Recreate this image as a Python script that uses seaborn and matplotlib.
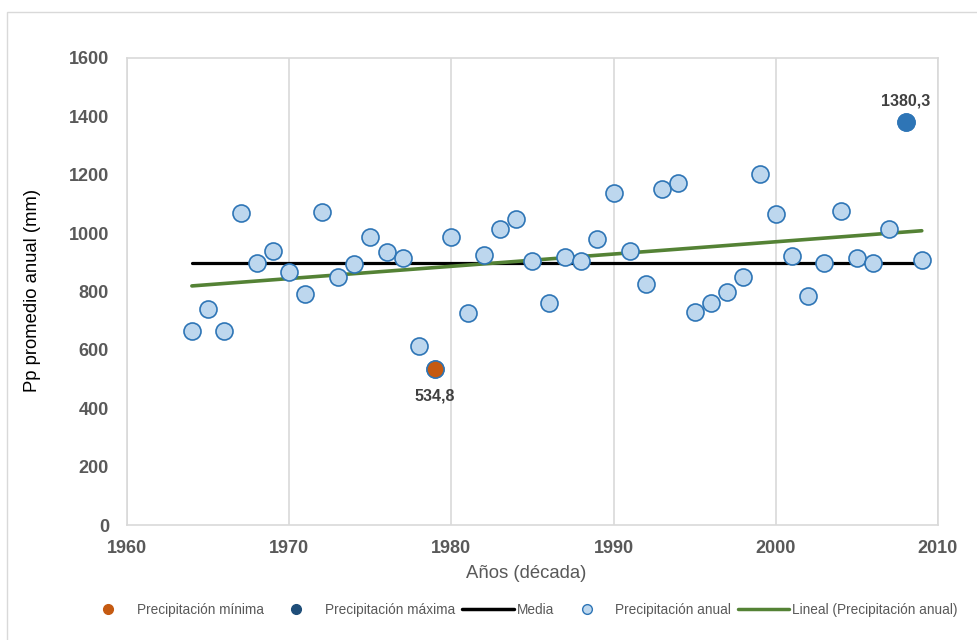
import numpy as np
import pandas as pd
import matplotlib
matplotlib.use("Agg")
import matplotlib.pyplot as plt
from matplotlib.lines import Line2D
from matplotlib.patches import Rectangle
import seaborn as sns

years = list(range(1964, 2010))
precip = [665, 740, 665, 1069, 898, 939, 867, 791, 1072, 850,
          894, 987, 935, 915, 613, 534.8, 987, 726, 925, 1014,
          1048, 904, 760, 918, 904, 980, 1137, 939, 826, 1151,
          1172, 730, 760, 798, 850, 1202, 1065, 922, 785, 898,
          1076, 915, 898, 1014, 1380.3, 908]
media = 898
min_label = "534,8"
max_label = "1380,3"
x_ticks = [1960, 1970, 1980, 1990, 2000, 2010]
y_ticks = [0, 200, 400, 600, 800, 1000, 1200, 1400, 1600]

df = pd.DataFrame({"year": years, "pp": precip})
imin = int(df["pp"].idxmin())
imax = int(df["pp"].idxmax())

sns.set_style("white")
plt.rcParams['font.family'] = ['Liberation Sans', 'DejaVu Sans']

fig = plt.figure(figsize=(9.77, 6.4), dpi=100)
fig.patches.append(Rectangle((7 / 977, -0.05), 1.1, (640 - 12) / 640 + 0.05,
                             transform=fig.transFigure, fill=False,
                             edgecolor="#d9d9d9", linewidth=1.0))
ax = fig.add_axes([127 / 977, (640 - 525) / 640, (938 - 127) / 977, (525 - 58) / 640])

grid_c = "#d9d9d9"
for xv in x_ticks:
    ax.axvline(xv, color=grid_c, lw=1.2, zorder=0)

# mean line
ax.plot([years[0], years[-1]], [media, media], color="black", lw=2.3, zorder=2)
# linear trend
sns.regplot(data=df, x="year", y="pp", scatter=False, ci=None, ax=ax,
            line_kws=dict(color="#548235", lw=2.6, zorder=3), truncate=True)
# annual points
sns.scatterplot(data=df, x="year", y="pp", ax=ax, s=150, color="#BDD7EE",
                edgecolor="#2E75B6", linewidth=1.2, zorder=4, legend=False)
# min & max
ax.scatter([df["year"][imin]], [df["pp"][imin]], s=150, color="#C55A11",
           edgecolor="#2E75B6", linewidth=1.0, zorder=5)
ax.scatter([df["year"][imax]], [df["pp"][imax]], s=150, color="#2E75B6",
           edgecolor="#2E75B6", linewidth=1.0, zorder=5)
ax.annotate(min_label, (df["year"][imin], df["pp"][imin]), xytext=(0, -14),
            textcoords="offset points", ha="center", va="top",
            fontsize=11.5, fontweight="bold", color="#404040")
ax.annotate(max_label, (df["year"][imax], df["pp"][imax]), xytext=(0, 10),
            textcoords="offset points", ha="center", va="bottom",
            fontsize=11.5, fontweight="bold", color="#404040")

ax.set_xlim(1960, 2010)
ax.set_ylim(0, 1600)
ax.set_xticks(x_ticks)
ax.set_yticks(y_ticks)
ax.tick_params(axis="both", length=0, labelsize=13, labelcolor="#595959")
ax.tick_params(axis="y", pad=13)
ax.tick_params(axis="x", pad=11)
for lab in ax.get_xticklabels() + ax.get_yticklabels():
    lab.set_fontweight("bold")
for sp in ax.spines.values():
    sp.set_color(grid_c)
    sp.set_linewidth(1.2)

ax.set_ylabel("Pp promedio anual (mm)", fontsize=13.3, color="black")
ax.yaxis.set_label_coords((33 - 127) / 811, 0.503)
ax.yaxis.label.set_va("center")
ax.set_xlabel("Años (década)", fontsize=13.3, color="#595959")
ax.xaxis.set_label_coords((526 - 127) / 811, (525 - 573) / 467)
ax.xaxis.label.set_va("center")

handles = [
    Line2D([], [], ls="none", marker="o", ms=7, mfc="#C55A11", mec="#C55A11"),
    Line2D([], [], ls="none", marker="o", ms=7, mfc="#1F4E79", mec="#1F4E79"),
    Line2D([], [], color="black", lw=2.5),
    Line2D([], [], ls="none", marker="o", ms=7, mfc="#BDD7EE", mec="#2E75B6"),
    Line2D([], [], color="#548235", lw=2.5),
]
labels = ["Precipitación mínima", "Precipitación máxima", "Media",
          "Precipitación anual", "Lineal (Precipitación anual)"]
fig.legend(handles, labels, loc="center", bbox_to_anchor=(520 / 977, 1 - 610 / 640),
           ncol=5, frameon=False, fontsize=9.8, labelcolor="#595959",
           handlelength=3.8, handletextpad=0.2, columnspacing=0.5)

fig.savefig("out.png", dpi=100)
